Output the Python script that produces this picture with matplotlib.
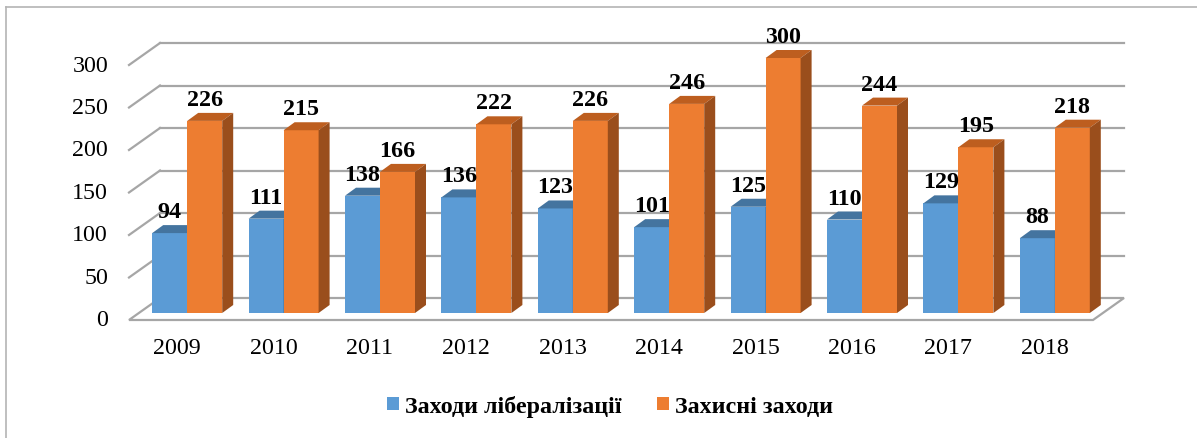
import matplotlib
matplotlib.use('Agg')
import matplotlib.pyplot as plt
from matplotlib.patches import Polygon
from matplotlib.lines import Line2D

# data
years = ['2009', '2010', '2011', '2012', '2013', '2014', '2015', '2016', '2017', '2018']
liberal = [94, 111, 138, 136, 123, 101, 125, 110, 129, 88]
protect = [226, 215, 166, 222, 226, 246, 300, 244, 195, 218]
y_ticks = [0, 50, 100, 150, 200, 250, 300]
series_names = ['Заходи лібералізації', 'Захисні заходи']

plt.rcParams['font.family'] = ['Liberation Serif', 'DejaVu Serif']
FS = 17.3

W, H = 1197, 439
fig = plt.figure(figsize=(W / 100, H / 100), dpi=100)

# front plane of the bars, in pixels
ax_left, ax_right, ax_top, ax_bot = 139, 1103, 59, 314
ax = fig.add_axes([ax_left / W, 1 - ax_bot / H, (ax_right - ax_left) / W, (ax_bot - ax_top) / H])
ax.set_xlim(-0.5, len(years) - 0.5)
ax.set_ylim(0, 300)
ax.axis('off')

px_x = (ax_right - ax_left) / len(years)
px_y = (ax_bot - ax_top) / 300.0


def shift(px, py):
    # pixel offset -> data offset
    return px / px_x, py / px_y


back = shift(21, 15)
front = shift(-10, -7)
depth = shift(11, 8)
grid_c = '#a6a6a6'
x0, x1 = -0.5, len(years) - 0.5

# walls: gridlines on back wall + diagonals on side wall
for v in y_ticks:
    if v == 0:
        continue
    ax.plot([x0 + back[0], x1 + back[0]], [v + back[1]] * 2, color=grid_c, lw=1.6,
            clip_on=False, zorder=0)
    ax.plot([x0 + front[0], x0 + back[0]], [v + front[1], v + back[1]], color=grid_c,
            lw=1.6, clip_on=False, zorder=0)

# floor
floor = Polygon([(x0 + front[0], front[1]), (x1 + front[0], front[1]),
                 (x1 + back[0], back[1]), (x0 + back[0], back[1])],
                closed=True, facecolor='white', edgecolor=grid_c, lw=1.6,
                clip_on=False, zorder=0.5)
ax.add_patch(floor)

# y tick labels
for v in y_ticks:
    ax.text(x0 + front[0] - 21 / px_x, v + front[1], str(v), ha='right', va='center',
            fontsize=FS, clip_on=False)

# category labels
for i, yr in enumerate(years):
    ax.text(i + front[0], front[1] - 28 / px_y, yr, ha='center', va='center',
            fontsize=FS, clip_on=False)

w = 35 / px_x
xs = list(range(len(years)))
styles = [('#5B9BD5', '#44749F', '#3A6590'), ('#ED7D31', '#BD5E1F', '#9A4E1C')]
containers = []
for k, (vals, (fc, tc, sc)) in enumerate(zip([liberal, protect], styles)):
    pos = [x - w / 2 + k * w for x in xs]
    bc = ax.bar(pos, vals, w, color=fc, label=series_names[k], zorder=2 + k, clip_on=False)
    containers.append(bc)
    for r, val in zip(bc.patches, vals):
        bx, bw, h = r.get_x(), r.get_width(), r.get_height()
        top = Polygon([(bx, h), (bx + bw, h), (bx + bw + depth[0], h + depth[1]),
                       (bx + depth[0], h + depth[1])], closed=True, facecolor=tc,
                      edgecolor='none', zorder=2 + k, clip_on=False)
        side = Polygon([(bx + bw, 0), (bx + bw + depth[0], depth[1]),
                        (bx + bw + depth[0], h + depth[1]), (bx + bw, h)], closed=True,
                       facecolor=sc, edgecolor='none', zorder=2 + k, clip_on=False)
        ax.add_patch(top)
        ax.add_patch(side)
        ax.annotate(str(val), (bx + bw / 2, h), xytext=(0, 11.5), textcoords='offset points',
                    ha='center', va='baseline', fontsize=FS, fontweight='bold', zorder=10)

fig.legend(handles=containers, labels=series_names, loc='center',
           bbox_to_anchor=(610 / W, 1 - 407 / H), ncol=2, frameon=False,
           handlelength=0.5, handleheight=0.5, handletextpad=0.25, columnspacing=1.45,
           prop={'weight': 'bold', 'size': FS})

# chart frame (only top and left visible)
fig.add_artist(Line2D([6 / W, 6 / W], [0, 1 - 8 / H], color='#b4b4b4', lw=1.2,
                      transform=fig.transFigure))
fig.add_artist(Line2D([6 / W, 1], [1 - 8 / H, 1 - 8 / H], color='#b4b4b4', lw=1.2,
                      transform=fig.transFigure))

fig.savefig('out.png', dpi=100)
